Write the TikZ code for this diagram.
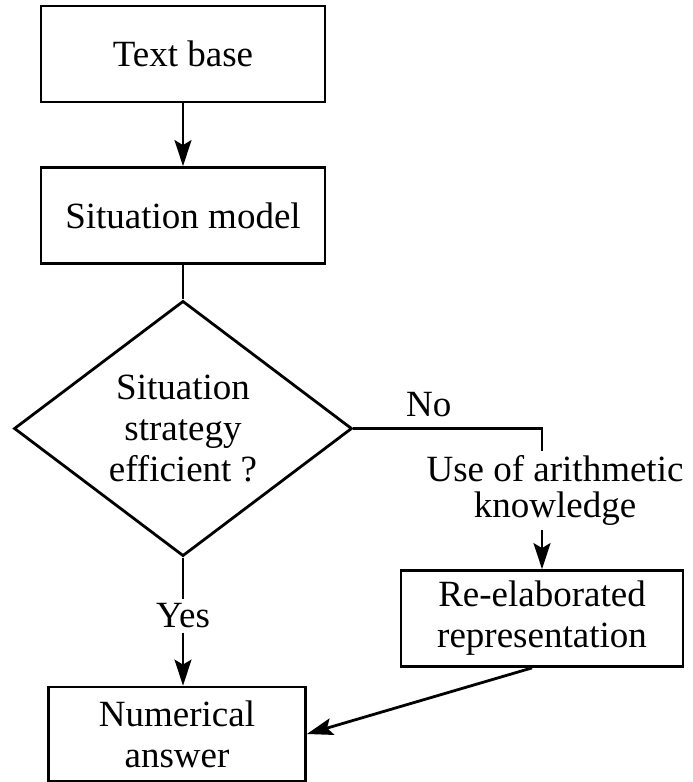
\documentclass[tikz,border=0pt]{standalone}
\usepackage{fontspec}
\setmainfont{Liberation Serif}
\usetikzlibrary{positioning,shapes.geometric,arrows.meta}

\begin{document}
\begin{tikzpicture}[line width=1.4pt, >={Stealth[length=13pt,width=8.5pt,inset=2.5pt]},
  main node/.style={rectangle, draw, minimum width=142pt, minimum height=48pt, align=center},
  test node/.style={diamond, draw, minimum width=169pt, minimum height=124pt, inner sep=0pt, align=center},
  label node/.style={inner sep=1.5pt, align=center}]
        \tikzstyle{every node}=[font=\fontsize{18.5}{20.5}\selectfont]
        \useasboundingbox (0,0) rectangle (346pt,-391pt);

          \node[main node] (1) at (91.5pt,-27pt) {Text base};
          \node[main node] (2) [below of=1, node distance=80.75pt] {Situation model};
          \node[test node] (3) [below of=2, node distance=106.5pt] {Situation\\strategy\\efficient ?};
          \coordinate[right of=3, node distance=179.5pt] (c);
          \node[label node, font=\fontsize{18.5}{18}\selectfont] (6) [below of=c, node distance=31pt, xshift=6.5pt] {Use of arithmetic\\knowledge};
          \node[main node, minimum width=141pt] (5) [below of=c, node distance=95pt] {Re-elaborated\\representation};
          \node[label node] (7) [below of=3, node distance=93.75pt] {Yes};
          \node[main node, minimum width=128.5pt, minimum height=47pt] (4) [below of=3, node distance=152.75pt, xshift=-3pt] {Numerical\\answer};

          \path[->]
            (1) edge (2)
            (7) edge (7 |- 4.north)
            ([xshift=-5pt]5.south) edge (4.east);
          \path
            (2) edge (3)
            (3) edge (7);
          \draw (3.east) -- node[above=2pt, pos=0.4] {No} (c) -- (c |- 6.north);
          \draw[->] (c |- 6.south) -- (5);

        \end{tikzpicture}
\end{document}
